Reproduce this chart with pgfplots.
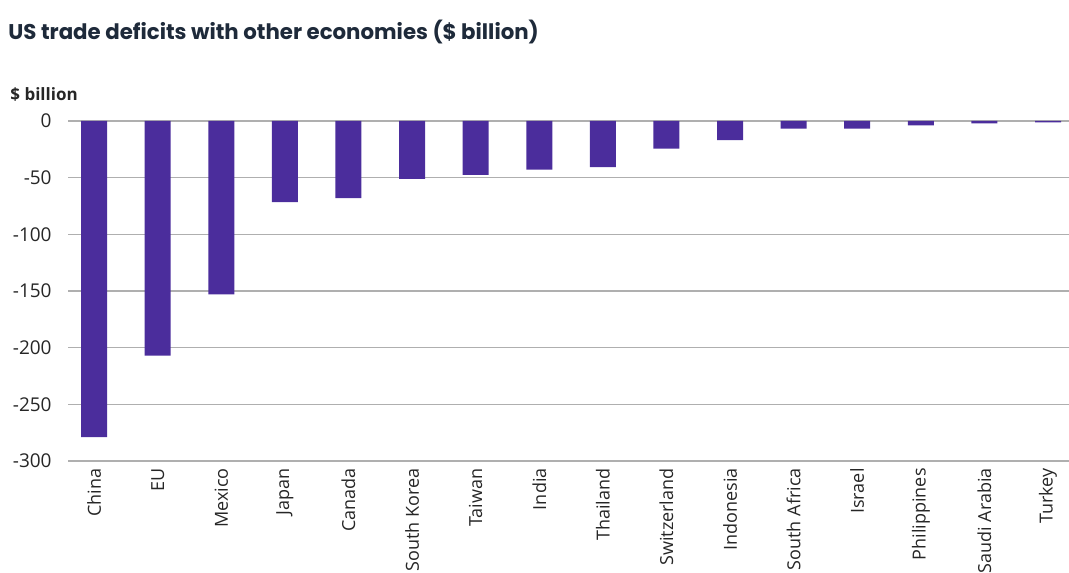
\documentclass[border=0pt]{standalone}
\usepackage{fontspec}
\setmainfont{Open Sans}
\newfontfamily\titlefont{Poppins}
\usepackage{pgfplots}
\pgfplotsset{compat=1.18}
\definecolor{barcol}{HTML}{4B2D9C}
\definecolor{titlecol}{HTML}{1E2A3A}
\definecolor{gridcol}{HTML}{AFAFAF}
\begin{document}
\begin{tikzpicture}
\useasboundingbox (-34pt,-55.5pt) rectangle (500.5pt,230.5pt);
\begin{axis}[
  scale only axis,
  width=500.5pt, height=170pt,
  xmin=-0.41, xmax=15.33,
  ymin=-300, ymax=0,
  axis line style={draw=none},
  ytick={-300,-250,...,0},
  ymajorgrids,
  grid style={gridcol, line width=0.6pt},
  major tick length=0pt,
  xtick=data,
  xticklabels={China,EU,Mexico,Japan,Canada,South Korea,Taiwan,India,Thailand,Switzerland,Indonesia,South Africa,Israel,Philippines,Saudi Arabia,Turkey},
  xticklabel style={rotate=90, anchor=east, font=\fontsize{9}{10}\selectfont, text=black!85, inner sep=0pt, xshift=-3.5pt},
  yticklabel style={font=\fontsize{9.5}{10}\selectfont, text=black!85, inner sep=0pt, xshift=-8pt},
  /pgf/number format/assume math mode=true,
  ybar, bar width=13pt,
  clip=false,
]
\addplot[fill=barcol, draw=none] coordinates {
(0,-279) (1,-207) (2,-153) (3,-71.5) (4,-68) (5,-51) (6,-47.6) (7,-43) (8,-40.6) (9,-24.4) (10,-16.8) (11,-6.7) (12,-6.7) (13,-3.8) (14,-2) (15,-1.2)
};
\node[anchor=west, font=\fontsize{8.5}{10}\selectfont\bfseries, text=black!85, inner sep=0pt] at ([xshift=-29pt, yshift=13pt]rel axis cs:0,1) {\$ billion};
\node[anchor=west, font=\titlefont\fontsize{10.65}{13}\selectfont\bfseries, text=titlecol, inner sep=0pt] at ([xshift=-30pt, yshift=44.5pt]rel axis cs:0,1) {US trade deficits with other economies (\$ billion)};
\end{axis}
\end{tikzpicture}
\end{document}
